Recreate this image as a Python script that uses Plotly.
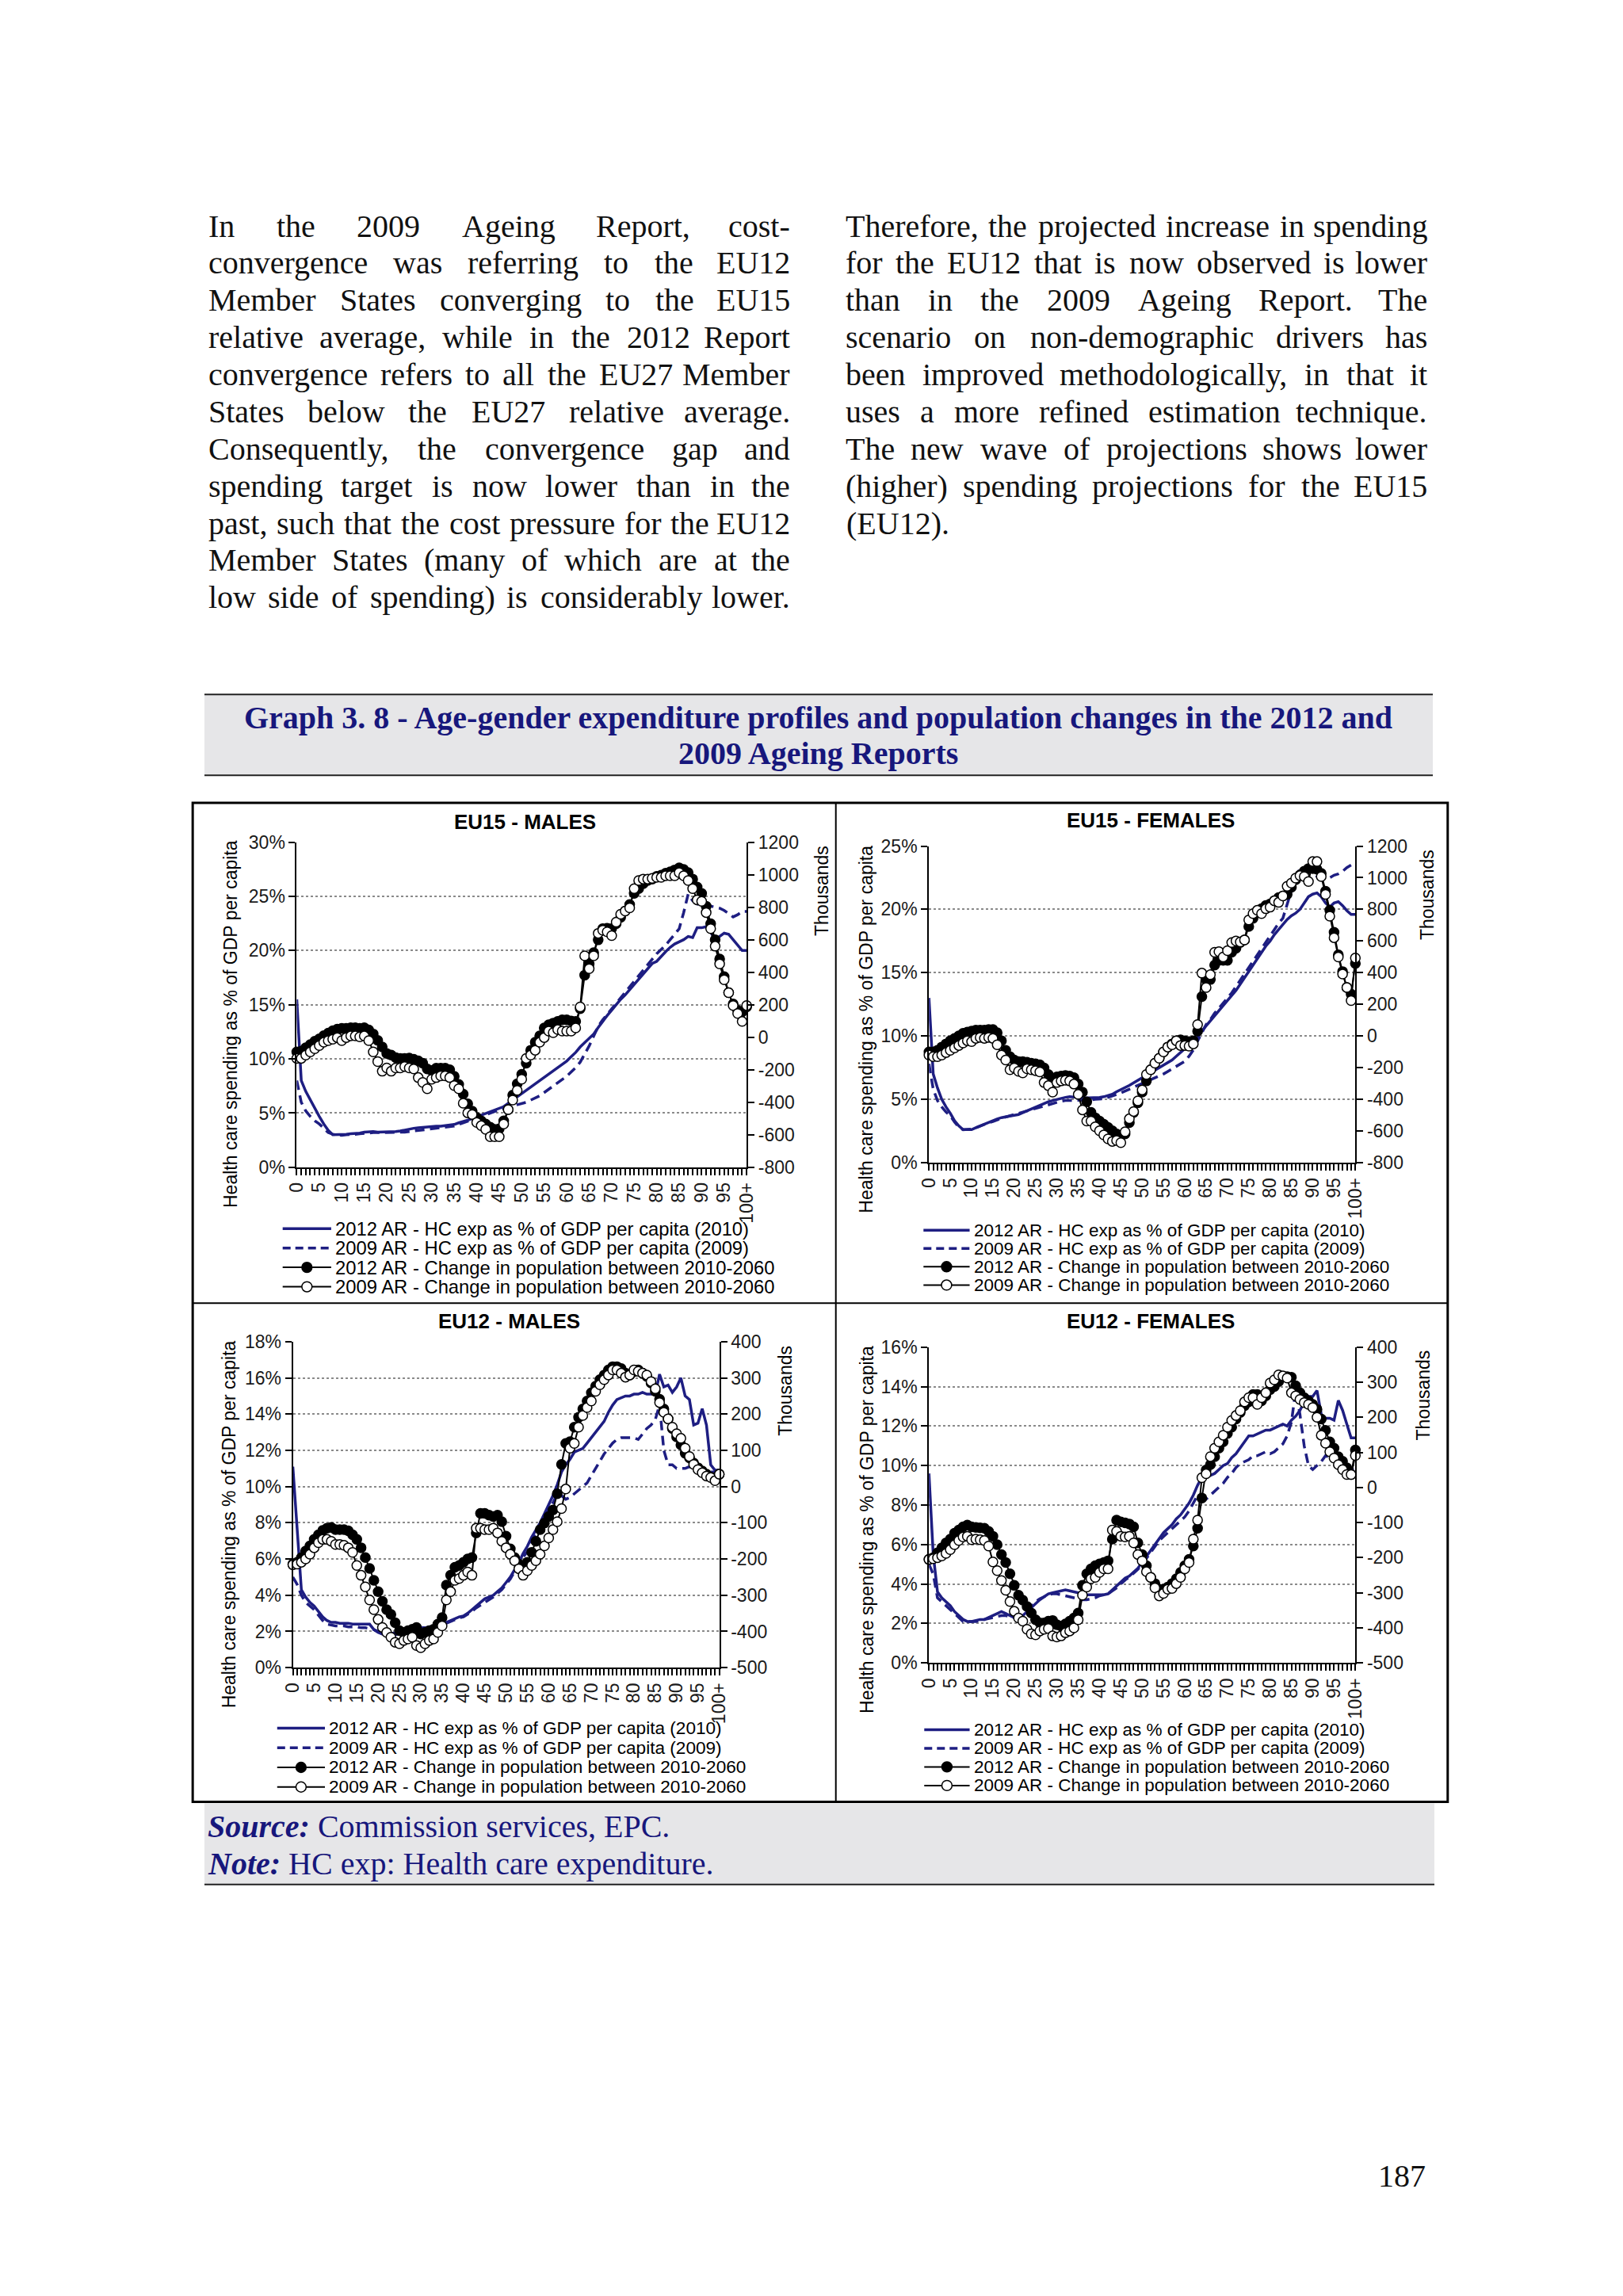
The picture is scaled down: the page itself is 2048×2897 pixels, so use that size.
import plotly.graph_objects as go

# ---------------- data ----------------
age_labels = [str(a) for a in range(100)] + ["100+"]

legend_labels = ["2012 AR - HC exp as % of GDP per capita (2010)",
                 "2009 AR - HC exp as % of GDP per capita (2009)",
                 "2012 AR - Change in population between 2010-2060",
                 "2009 AR - Change in population between 2010-2060"]

panel_titles = ["EU15 - MALES", "EU15 - FEMALES", "EU12 - MALES", "EU12 - FEMALES"]

right_ticks_eu15 = [-800, -600, -400, -200, 0, 200, 400, 600, 800, 1000, 1200]
right_ticks_eu12 = [-500, -400, -300, -200, -100, 0, 100, 200, 300, 400]

# EU15 males
hc12_eu15_m = [15.5, 8.0, 7.0, 6.2, 5.4, 4.7, 4.0, 3.4, 3.0, 3.0,
               3.0, 3.05, 3.1, 3.1, 3.15, 3.25, 3.3, 3.3, 3.25, 3.25,
               3.25, 3.25, 3.3, 3.35, 3.45, 3.5, 3.6, 3.65, 3.7, 3.7,
               3.75, 3.8, 3.8, 3.85, 3.9, 3.95, 4.1, 4.2, 4.35, 4.5,
               4.65, 4.85, 5.0, 5.1, 5.25, 5.4, 5.6, 5.9, 6.2, 6.5,
               6.8, 7.1, 7.4, 7.7, 8.0, 8.3, 8.6, 8.9, 9.2, 9.5,
               9.8, 10.2, 10.6, 11.1, 11.5, 11.9, 12.3, 12.9, 13.5, 14.0,
               14.5, 15.0, 15.5, 15.9, 16.4, 16.8, 17.3, 17.8, 18.3, 18.8,
               19.0, 19.5, 19.9, 20.3, 20.6, 20.8, 21.0, 21.3, 21.2, 22.1,
               22.1, 22.2, 21.7, 21.0, 21.3, 21.6, 21.5, 21.0, 20.5, 20.0, 20.0]
hc09_eu15_m = [8.0, 6.0, 5.2, 4.7, 4.3, 4.0, 3.6, 3.2, 3.05, 3.0,
               2.95, 3.0, 3.0, 3.05, 3.1, 3.15, 3.2, 3.2, 3.2, 3.2,
               3.2, 3.2, 3.2, 3.25, 3.25, 3.3, 3.35, 3.4, 3.45, 3.5,
               3.5, 3.55, 3.6, 3.65, 3.7, 3.8, 3.95, 4.1, 4.3, 4.45,
               4.6, 4.75, 4.9, 5.0, 5.15, 5.3, 5.45, 5.55, 5.65, 5.75,
               5.85, 6.0, 6.2, 6.4, 6.6, 6.9, 7.2, 7.5, 7.8, 8.1,
               8.4, 8.8, 9.2, 9.7, 10.4, 11.2, 12.1, 13.0, 13.6, 14.1,
               14.6, 15.2, 15.7, 16.2, 16.7, 17.2, 17.7, 18.2, 18.7, 19.2,
               19.7, 20.1, 20.5, 21.0, 21.5, 22.0, 23.5, 25.2, 24.6, 24.3,
               24.2, 24.2, 24.1, 24.0, 23.9, 23.7, 23.4, 23.1, 23.3, 23.6, 23.6]
pop12_eu15_m = [-90, -85, -65, -45, -25, -10, 10, 25, 40, 50,
                55, 55, 58, 58, 55, 58, 45, 20, -20, -60,
                -100, -110, -125, -130, -130, -128, -135, -145, -160, -195,
                -205, -190, -190, -190, -200, -240, -290, -350, -410, -455,
                -494, -514, -534, -553, -567, -563, -514, -445, -356, -287,
                -228, -160, -80, -31, 8, 57, 77, 87, 97, 107,
                107, 100, 97, 176, 382, 451, 520, 599, 668, 670,
                668, 698, 737, 776, 816, 885, 914, 944, 964, 973,
                989, 997, 1009, 1017, 1029, 1042, 1032, 1013, 973, 924,
                885, 806, 698, 599, 481, 373, 274, 205, 166, 156, 186]
pop09_eu15_m = [-130, -130, -110, -90, -71, -51, -31, -21, -12, -2,
                -21, -2, 8, 8, 2, 8, -21, -90, -150, -209,
                -189, -209, -189, -189, -180, -189, -195, -248, -278, -317,
                -258, -248, -238, -238, -248, -297, -317, -406, -465, -475,
                -524, -544, -567, -612, -612, -612, -534, -445, -386, -327,
                -258, -130, -110, -80, -31, -2, 38, 28, 47, 38,
                38, 38, 57, 186, 501, 422, 501, 639, 658, 648,
                625, 708, 757, 776, 796, 914, 964, 973, 973, 977,
                983, 983, 993, 993, 993, 1013, 993, 964, 914, 845,
                836, 767, 668, 560, 451, 353, 274, 195, 146, 97, 195]

# EU15 females
hc12_eu15_f = [13.0, 7.0, 5.9, 5.0, 4.4, 3.9, 3.3, 2.9, 2.6, 2.6,
               2.6, 2.75, 2.9, 3.05, 3.2, 3.3, 3.45, 3.55, 3.6, 3.65,
               3.7, 3.8, 3.95, 4.1, 4.25, 4.4, 4.5, 4.7, 4.8, 4.9,
               5.0, 5.1, 5.15, 5.2, 5.2, 5.15, 5.1, 5.1, 5.1, 5.1,
               5.15, 5.2, 5.3, 5.4, 5.6, 5.75, 5.9, 6.1, 6.3, 6.5,
               6.7, 6.9, 7.1, 7.3, 7.5, 7.7, 7.9, 8.1, 8.4, 8.7,
               9.0, 9.2, 9.5, 9.9, 10.4, 10.8, 11.2, 11.6, 12.0, 12.4,
               12.8, 13.2, 13.6, 14.1, 14.6, 15.1, 15.6, 16.1, 16.6, 17.1,
               17.5, 18.0, 18.4, 18.8, 19.2, 19.5, 19.7, 20.0, 20.5, 21.0,
               21.2, 21.3, 21.0, 20.5, 20.2, 20.5, 20.6, 20.3, 19.9, 19.6, 19.6]
hc09_eu15_f = [7.8, 5.8, 4.9, 4.4, 4.0, 3.7, 3.2, 2.8, 2.6, 2.6,
               2.65, 2.75, 2.9, 3.0, 3.15, 3.25, 3.4, 3.5, 3.6, 3.7,
               3.8, 3.85, 3.95, 4.05, 4.15, 4.3, 4.4, 4.5, 4.6, 4.7,
               4.8, 4.85, 4.9, 4.9, 4.9, 4.9, 4.9, 4.9, 4.95, 5.0,
               5.0, 5.05, 5.15, 5.25, 5.35, 5.5, 5.65, 5.8, 5.95, 6.1,
               6.2, 6.35, 6.5, 6.65, 6.8, 7.0, 7.2, 7.4, 7.6, 7.8,
               8.0, 8.4, 8.9, 9.6, 10.3, 10.9, 11.3, 11.8, 12.2, 12.6,
               13.0, 13.4, 13.9, 14.4, 14.9, 15.4, 15.9, 16.4, 16.9, 17.4,
               17.9, 18.4, 18.9, 19.3, 20.5, 21.5, 22.5, 23.2, 23.0, 23.1,
               23.0, 22.6, 22.5, 22.4, 22.5, 22.7, 22.8, 23.0, 23.3, 23.5, 23.6]
pop12_eu15_f = [-101, -101, -91, -70, -50, -30, -15, 1, 17, 25,
                31, 37, 37, 37, 41, 41, 21, -30, -91, -131,
                -152, -162, -162, -166, -172, -176, -182, -202, -243, -273,
                -259, -253, -250, -253, -263, -304, -355, -416, -483, -517,
                -538, -558, -578, -599, -619, -629, -619, -548, -483, -422,
                -355, -284, -213, -172, -141, -101, -70, -50, -30, -24,
                -30, -35, -30, 31, 249, 357, 357, 448, 478, 478,
                478, 529, 554, 590, 607, 692, 743, 783, 804, 824,
                834, 854, 875, 885, 895, 940, 987, 1017, 1041, 1058,
                1058, 1054, 1027, 915, 794, 655, 513, 407, 306, 265, 458]
pop09_eu15_f = [-121, -131, -131, -121, -105, -91, -76, -60, -44, -30,
                -36, -15, -9, -15, -9, -15, -56, -121, -152, -213,
                -202, -223, -233, -207, -213, -219, -227, -294, -314, -355,
                -294, -284, -280, -284, -304, -369, -467, -538, -538, -574,
                -599, -625, -650, -666, -660, -674, -605, -523, -477, -410,
                -341, -243, -213, -172, -141, -101, -70, -56, -30, -60,
                -60, -64, -50, 72, 397, 306, 387, 529, 533, 499,
                539, 590, 600, 594, 607, 733, 773, 794, 773, 804,
                814, 854, 844, 885, 946, 966, 997, 1013, 1007, 976,
                1102, 1102, 1007, 895, 757, 621, 499, 391, 306, 224, 493]

# EU12 males
hc12_eu12_m = [11.1, 7.5, 4.3, 3.9, 3.6, 3.4, 3.1, 2.8, 2.6, 2.5,
               2.5, 2.45, 2.45, 2.45, 2.4, 2.4, 2.4, 2.4, 2.4, 2.1,
               1.95, 1.85, 1.8, 1.8, 1.8, 1.9, 2.0, 2.1, 2.2, 2.15,
               2.2, 2.2, 2.25, 2.3, 2.35, 2.4, 2.5, 2.6, 2.7, 2.8,
               2.85, 3.0, 3.2, 3.4, 3.6, 3.8, 3.9, 4.0, 4.2, 4.4,
               4.7, 5.0, 5.4, 5.8, 6.3, 6.7, 7.2, 7.6, 8.0, 8.5,
               9.0, 9.5, 10.1, 10.8, 11.2, 11.5, 11.9, 12.0, 12.1, 12.4,
               12.7, 13.0, 13.3, 13.6, 14.1, 14.5, 14.8, 14.9, 15.0, 15.0,
               15.1, 15.1, 15.2, 15.1, 15.1, 15.1, 16.2, 15.5, 15.6, 15.2,
               15.5, 16.0, 15.0, 14.8, 13.4, 13.5, 14.3, 13.4, 11.2, 10.9, 10.9]
hc09_eu12_m = [5.0, 4.6, 4.0, 3.6, 3.4, 3.2, 2.9, 2.6, 2.4, 2.35,
               2.3, 2.3, 2.3, 2.25, 2.25, 2.25, 2.2, 2.2, 2.15, 2.1,
               2.0, 1.95, 1.9, 1.9, 1.9, 1.95, 2.0, 2.05, 2.1, 2.1,
               2.15, 2.15, 2.2, 2.25, 2.3, 2.35, 2.45, 2.55, 2.65, 2.75,
               2.8, 2.95, 3.1, 3.3, 3.45, 3.6, 3.75, 3.9, 4.1, 4.3,
               4.6, 4.9, 5.3, 5.7, 6.1, 6.4, 6.9, 7.5, 7.9, 8.3,
               8.7, 9.1, 9.6, 9.5, 9.3, 9.4, 9.6, 9.8, 10.0, 10.2,
               10.6, 11.0, 11.4, 11.8, 12.1, 12.4, 12.6, 12.7, 12.7, 12.7,
               12.7, 12.6, 12.9, 13.2, 13.4, 13.7, 14.5, 12.0, 11.2, 11.2,
               11.0, 11.0, 11.0, 11.1, 11.0, 10.9, 10.9, 10.9, 10.8, 10.8, 10.8]
pop12_eu12_m = [-214, -209, -196, -178, -164, -146, -133, -121, -115, -113,
                -119, -119, -119, -122, -133, -146, -169, -196, -226, -259,
                -290, -317, -340, -353, -376, -398, -403, -398, -394, -389,
                -407, -403, -398, -394, -380, -362, -272, -245, -223, -218,
                -209, -200, -196, -128, -74, -74, -79, -83, -79, -97,
                -137, -172, -196, -214, -223, -209, -182, -151, -119, -101,
                -83, -65, -20, 61, 119, 124, 164, 191, 214, 236,
                259, 277, 295, 308, 322, 331, 331, 326, 313, 308,
                317, 322, 313, 304, 286, 263, 241, 214, 187, 160,
                137, 115, 92, 79, 65, 52, 43, 34, 26, 20, 34]
pop09_eu12_m = [-216, -214, -209, -200, -187, -169, -155, -146, -146, -151,
                -160, -160, -162, -169, -182, -218, -245, -277, -313, -340,
                -367, -389, -403, -416, -430, -434, -425, -421, -416, -439,
                -445, -434, -425, -421, -403, -385, -313, -290, -259, -254,
                -245, -236, -245, -115, -115, -119, -119, -115, -128, -151,
                -169, -187, -205, -227, -245, -232, -218, -205, -187, -164,
                -142, -119, -97, -61, -7, 106, 119, 164, 196, 218,
                236, 263, 281, 295, 308, 322, 322, 313, 302, 308,
                322, 318, 313, 308, 290, 270, 232, 205, 187, 164,
                146, 133, 106, 83, 61, 47, 38, 29, 25, 16, 34]

# EU12 females
hc12_eu12_f = [9.6, 5.5, 3.6, 3.3, 3.1, 2.9, 2.6, 2.4, 2.2, 2.1,
               2.1, 2.15, 2.2, 2.2, 2.3, 2.4, 2.5, 2.6, 2.5, 2.4,
               2.3, 2.3, 2.4, 2.6, 2.8, 3.0, 3.2, 3.35, 3.5, 3.55,
               3.6, 3.65, 3.7, 3.65, 3.6, 3.55, 3.5, 3.45, 3.45, 3.45,
               3.45, 3.45, 3.5, 3.7, 3.9, 4.1, 4.3, 4.4, 4.6, 4.8,
               5.1, 5.4, 5.7, 6.0, 6.3, 6.6, 6.8, 7.0, 7.3, 7.5,
               7.8, 8.1, 8.5, 9.0, 9.4, 9.4, 9.5, 9.6, 9.8, 10.0,
               10.1, 10.4, 10.6, 10.9, 11.2, 11.5, 11.5, 11.6, 11.7, 11.8,
               11.8, 11.9, 12.0, 12.1, 12.0, 12.3, 12.5, 12.8, 13.2, 13.5,
               13.5, 13.8, 12.6, 12.4, 12.4, 12.3, 13.3, 12.8, 12.1, 11.4, 11.4]
hc09_eu12_f = [5.0, 4.5, 3.3, 3.1, 2.9, 2.7, 2.5, 2.3, 2.1, 2.1,
               2.1, 2.1, 2.15, 2.2, 2.25, 2.3, 2.35, 2.4, 2.4, 2.35,
               2.3, 2.35, 2.5, 2.7, 2.9, 3.1, 3.25, 3.35, 3.45, 3.5,
               3.5, 3.45, 3.4, 3.35, 3.3, 3.25, 3.2, 3.2, 3.25, 3.3,
               3.4, 3.45, 3.5, 3.65, 3.8, 4.0, 4.2, 4.35, 4.55, 4.75,
               5.0, 5.3, 5.6, 5.9, 6.2, 6.4, 6.6, 6.8, 7.0, 7.2,
               7.4, 7.7, 8.1, 8.5, 8.4, 8.3, 8.5, 8.7, 8.9, 9.1,
               9.4, 9.6, 9.9, 10.1, 10.2, 10.3, 10.5, 10.5, 10.6, 10.7,
               10.6, 10.7, 10.9, 11.1, 11.5, 12.2, 13.8, 12.6, 11.0, 10.0,
               9.8, 10.0, 10.2, 10.5, 10.4, 10.3, 10.3, 10.2, 10.0, 9.8, 9.8]
pop12_eu12_f = [-205, -200, -186, -172, -158, -147, -130, -121, -112, -107,
                -112, -114, -115, -116, -125, -139, -163, -191, -214, -246,
                -279, -307, -321, -339, -358, -377, -386, -386, -381, -379,
                -391, -395, -389, -381, -372, -358, -279, -246, -232, -223,
                -218, -214, -209, -147, -93, -98, -101, -104, -112, -158,
                -191, -223, -256, -274, -290, -290, -284, -274, -260, -242,
                -223, -205, -167, -116, -30, 50, 65, 88, 112, 130,
                154, 172, 195, 214, 233, 244, 265, 265, 247, 261,
                279, 288, 302, 316, 316, 314, 290, 270, 256, 247,
                237, 223, 195, 163, 130, 112, 88, 75, 56, 37, 107]
pop09_eu12_f = [-205, -203, -200, -195, -188, -177, -163, -151, -141, -139,
                -149, -147, -149, -151, -167, -212, -237, -265, -293, -325,
                -353, -372, -381, -404, -417, -420, -409, -404, -402, -423,
                -426, -423, -414, -409, -400, -377, -307, -284, -260, -256,
                -242, -232, -232, -121, -125, -139, -141, -139, -158, -191,
                -209, -240, -256, -286, -309, -302, -290, -288, -274, -256,
                -232, -214, -147, -93, 28, 39, 88, 112, 130, 149,
                172, 191, 205, 219, 244, 256, 256, 237, 256, 270,
                298, 307, 321, 318, 312, 270, 261, 251, 242, 237,
                228, 200, 149, 126, 102, 84, 65, 51, 37, 37, 91]

left_col_lines = ["In the 2009 Ageing Report, cost-",
                  "convergence was referring to the EU12",
                  "Member States converging to the EU15",
                  "relative average, while in the 2012 Report",
                  "convergence refers to all the EU27 Member",
                  "States below the EU27 relative average.",
                  "Consequently, the convergence gap and",
                  "spending target is now lower than in the",
                  "past, such that the cost pressure for the EU12",
                  "Member States (many of which are at the",
                  "low side of spending) is considerably lower."]
right_col_lines = ["Therefore, the projected increase in spending",
                   "for the EU12 that is now observed is lower",
                   "than in the 2009 Ageing Report. The",
                   "scenario on non-demographic drivers has",
                   "been improved methodologically, in that it",
                   "uses a more refined estimation technique.",
                   "The new wave of projections shows lower",
                   "(higher) spending projections for the EU15",
                   "(EU12)."]

# ---------------- page geometry ----------------
W, H = 2048, 2897
NAVY = "#1e1e82"
HEAD = "#17177c"
SANS = "Liberation Sans"
SERIF = "Liberation Serif"


def px(x):
    return x / W


def py(y):
    return 1 - y / H


TIMES_W = {" ": 250, ",": 250, ".": 250, "-": 333, "(": 333, ")": 333, ":": 278,
           "A": 722, "B": 667, "C": 667, "D": 722, "E": 611, "F": 556, "G": 722, "H": 722,
           "I": 333, "J": 389, "K": 722, "L": 611, "M": 889, "N": 722, "O": 722, "P": 556,
           "Q": 722, "R": 667, "S": 556, "T": 611, "U": 722, "V": 722, "W": 944, "X": 722,
           "Y": 722, "Z": 611, "a": 444, "b": 500, "c": 444, "d": 500, "e": 444, "f": 333,
           "g": 500, "h": 500, "i": 278, "j": 278, "k": 500, "l": 278, "m": 778, "n": 500,
           "o": 500, "p": 500, "q": 500, "r": 333, "s": 389, "t": 278, "u": 500, "v": 500,
           "w": 722, "x": 500, "y": 500, "z": 444}


def text_w(s, size):
    return sum(TIMES_W.get(c, 500) for c in s) * size / 1000


fig = go.Figure()
annotations = []
shapes = []

# ---------------- body text (justified) ----------------
BODY = 40
LINE_H = 47.3
FIRST_BASE = 280


def add_column(lines, x0, x1, last_left):
    for i, line in enumerate(lines):
        ymid = py(FIRST_BASE + i * LINE_H - 0.34 * BODY)
        words = line.split()
        if last_left and i == len(lines) - 1:
            annotations.append(dict(x=px(x0), y=ymid, xref="paper", yref="paper", text=line,
                                    showarrow=False, xanchor="left", yanchor="middle",
                                    font=dict(family=SERIF, size=BODY, color="#111")))
            continue
        widths = [text_w(w, BODY) for w in words]
        gap = (x1 - x0 - sum(widths)) / (len(words) - 1)
        x = x0
        for j, w in enumerate(words):
            last = j == len(words) - 1
            annotations.append(dict(x=px(x1 if last else x), y=ymid, xref="paper", yref="paper",
                                    text=w, showarrow=False, xanchor="right" if last else "left",
                                    yanchor="middle", borderpad=0,
                                    font=dict(family=SERIF, size=BODY, color="#111")))
            x += widths[j] + gap


add_column(left_col_lines, 243, 989, False)
add_column(right_col_lines, 1057, 1803, True)

# ---------------- graph heading band ----------------
shapes.append(dict(type="rect", xref="paper", yref="paper", x0=px(239), x1=px(1809),
                   y0=py(966), y1=py(863), fillcolor="#e6e6e8", line=dict(width=0), layer="below"))
for yy in (863, 966):
    shapes.append(dict(type="line", xref="paper", yref="paper", x0=px(239), x1=px(1809),
                       y0=py(yy), y1=py(yy), line=dict(color="#222", width=2)))
for k, t in enumerate(["Graph 3. 8 - Age-gender expenditure profiles and population changes in the 2012 and",
                       "2009 Ageing Reports"]):
    annotations.append(dict(x=px(1023), y=py(906 + 46 * k - 0.34 * BODY), xref="paper", yref="paper",
                            text="<b>" + t + "</b>", showarrow=False, xanchor="center", yanchor="middle",
                            font=dict(family=SERIF, size=BODY, color=HEAD)))

# ---------------- source band ----------------
shapes.append(dict(type="rect", xref="paper", yref="paper", x0=px(239), x1=px(1811),
                   y0=py(2378), y1=py(2275), fillcolor="#e6e6e8", line=dict(width=0), layer="below"))
shapes.append(dict(type="line", xref="paper", yref="paper", x0=px(239), x1=px(1811),
                   y0=py(2378), y1=py(2378), line=dict(color="#222", width=2)))
annotations.append(dict(x=px(241), y=py(2318 - 0.34 * BODY), xref="paper", yref="paper",
                        text="<b><i>Source:</i></b> Commission services, EPC.", showarrow=False,
                        xanchor="left", yanchor="middle", font=dict(family=SERIF, size=BODY, color=HEAD)))
annotations.append(dict(x=px(241), y=py(2365 - 0.34 * BODY), xref="paper", yref="paper",
                        text="<b><i>Note:</i></b> HC exp: Health care expenditure.", showarrow=False,
                        xanchor="left", yanchor="middle", font=dict(family=SERIF, size=BODY, color=HEAD)))
annotations.append(dict(x=px(1802), y=py(2763 - 0.34 * BODY), xref="paper", yref="paper", text="187",
                        showarrow=False, xanchor="right", yanchor="middle",
                        font=dict(family=SERIF, size=BODY, color="#111")))

# ---------------- chart frame ----------------
shapes.append(dict(type="rect", xref="paper", yref="paper", x0=px(224), x1=px(1828),
                   y0=py(2273), y1=py(1001), line=dict(color="black", width=3)))
shapes.append(dict(type="line", xref="paper", yref="paper", x0=px(1046), x1=px(1046),
                   y0=py(2273), y1=py(1001), line=dict(color="black", width=2)))
shapes.append(dict(type="line", xref="paper", yref="paper", x0=px(224), x1=px(1828),
                   y0=py(1638), y1=py(1638), line=dict(color="black", width=2)))

# ---------------- panels ----------------
# legend = (sample x0, sample x1, text x, first row y, row gap, font size)
panels = [
    dict(data=(hc12_eu15_m, hc09_eu15_m, pop12_eu15_m, pop09_eu15_m), box=(357, 1051, 932, 1465),
         left=(30, 5), right=right_ticks_eu15, title=(649, 1025), ytitle=(273, 1283),
         thous=(1028, 1113), legend=(339, 401, 405, 1543, 24.7, 23.8)),
    dict(data=(hc12_eu15_f, hc09_eu15_f, pop12_eu15_f, pop09_eu15_f), box=(1165, 1056, 1710, 1459),
         left=(25, 5), right=right_ticks_eu15, title=(1448, 1023), ytitle=(1085, 1289),
         thous=(1802, 1118), legend=(1158, 1217, 1222, 1545, 23.3, 22.5)),
    dict(data=(hc12_eu12_m, hc09_eu12_m, pop12_eu12_m, pop09_eu12_m), box=(352, 1687, 897, 2102),
         left=(18, 2), right=right_ticks_eu12, title=(628, 1661), ytitle=(270, 1920),
         thous=(982, 1750), legend=(332, 393, 397, 2179, 25.0, 22.6)),
    dict(data=(hc12_eu12_f, hc09_eu12_f, pop12_eu12_f, pop09_eu12_f), box=(1165, 1694, 1710, 2096),
         left=(16, 2), right=right_ticks_eu12, title=(1448, 1661), ytitle=(1085, 1926),
         thous=(1797, 1755), legend=(1159, 1217, 1222, 2181, 23.7, 22.5)),
]

xpos = list(range(len(age_labels)))
ticktext = [lab if i % 5 == 0 else "" for i, lab in enumerate(age_labels)]
tickfont = dict(family=SANS, size=23, color="#1a1a1a")
layout_axes = {}

for p, cfg in enumerate(panels):
    hc12, hc09, pop12, pop09 = cfg["data"]
    x0, y0, x1, y1 = cfg["box"]
    xa = "x" if p == 0 else "x%d" % (p + 1)
    yl = "y" if p == 0 else "y%d" % (2 * p + 1)
    yr = "y%d" % (2 * p + 2)

    fig.add_trace(go.Scatter(x=xpos, y=hc12, xaxis=xa, yaxis=yl, mode="lines", name=legend_labels[0],
                             line=dict(color=NAVY, width=3.5), showlegend=False))
    fig.add_trace(go.Scatter(x=xpos, y=hc09, xaxis=xa, yaxis=yl, mode="lines", name=legend_labels[1],
                             line=dict(color=NAVY, width=3.5, dash="12px,7px"), showlegend=False))
    fig.add_trace(go.Scatter(x=xpos, y=pop12, xaxis=xa, yaxis=yr, mode="lines+markers",
                             name=legend_labels[2], line=dict(color="black", width=2), cliponaxis=False,
                             marker=dict(symbol="circle", size=12, color="black",
                                         line=dict(color="black", width=1.5)), showlegend=False))
    fig.add_trace(go.Scatter(x=xpos, y=pop09, xaxis=xa, yaxis=yr, mode="lines+markers",
                             name=legend_labels[3], line=dict(color="black", width=2), cliponaxis=False,
                             marker=dict(symbol="circle", size=12, color="white",
                                         line=dict(color="black", width=1.5)), showlegend=False))

    xname = "xaxis" if p == 0 else "xaxis%d" % (p + 1)
    ylname = "yaxis" if p == 0 else "yaxis%d" % (2 * p + 1)
    yrname = "yaxis%d" % (2 * p + 2)
    layout_axes[xname] = dict(domain=[px(x0), px(x1)], anchor=yl, range=[0, len(age_labels) - 1],
                              tickmode="array", tickvals=xpos, ticktext=ticktext, tickangle=-90,
                              ticks="outside", ticklen=8, tickwidth=1.5, tickcolor="black",
                              showline=True, linecolor="black", linewidth=2, showgrid=False,
                              zeroline=False, tickfont=tickfont)
    top, step = cfg["left"]
    layout_axes[ylname] = dict(domain=[py(y1), py(y0)], anchor=xa, range=[0, top], dtick=step,
                               tick0=0, ticksuffix="%", ticks="outside", ticklen=8, tickwidth=1.5,
                               tickcolor="black", showline=True, linecolor="black", linewidth=2,
                               showgrid=True, gridcolor="#8a8a8a", griddash="dot", gridwidth=1.5,
                               zeroline=False, tickfont=tickfont)
    rticks = cfg["right"]
    layout_axes[yrname] = dict(overlaying=yl, side="right", anchor=xa, range=[rticks[0], rticks[-1]],
                               tickmode="array", tickvals=rticks, ticktext=[str(v) for v in rticks],
                               ticks="outside", ticklen=8, tickwidth=1.5, tickcolor="black",
                               showline=True, linecolor="black", linewidth=2, showgrid=False,
                               zeroline=False, tickfont=tickfont)

    # titles
    tx, ty = cfg["title"]
    annotations.append(dict(x=px(tx), y=py(ty), xref="paper", yref="paper",
                            text="<b>" + panel_titles[p] + "</b>", showarrow=False,
                            xanchor="center", yanchor="middle",
                            font=dict(family=SANS, size=26, color="black")))
    ax_, ay_ = cfg["ytitle"]
    annotations.append(dict(x=px(ax_), y=py(ay_), xref="paper", yref="paper",
                            text="Health care spending as % of GDP per capita", textangle=-90,
                            showarrow=False, xanchor="center", yanchor="middle",
                            font=dict(family=SANS, size=23, color="black")))
    thx, thy = cfg["thous"]
    annotations.append(dict(x=px(thx), y=py(thy), xref="paper", yref="paper", text="Thousands",
                            textangle=-90, showarrow=False, xanchor="center", yanchor="middle",
                            font=dict(family=SANS, size=23, color="black")))

    # legend (drawn by hand to match sample length and row spacing)
    sx0, sx1, tx0, row0, gap, lsize = cfg["legend"]
    for r in range(len(legend_labels)):
        ry = row0 + r * gap
        if r < 2:
            shapes.append(dict(type="line", xref="paper", yref="paper", x0=px(sx0), x1=px(sx1),
                               y0=py(ry), y1=py(ry),
                               line=dict(color=NAVY, width=3.5, dash="solid" if r == 0 else "10px,6px")))
        else:
            shapes.append(dict(type="line", xref="paper", yref="paper", x0=px(sx0), x1=px(sx1),
                               y0=py(ry), y1=py(ry), line=dict(color="black", width=2)))
            cx = (sx0 + sx1) / 2
            shapes.append(dict(type="circle", xref="paper", yref="paper", x0=px(cx - 6.5),
                               x1=px(cx + 6.5), y0=py(ry + 6.5), y1=py(ry - 6.5),
                               fillcolor="black" if r == 2 else "white",
                               line=dict(color="black", width=1.5)))
        annotations.append(dict(x=px(tx0), y=py(ry), xref="paper", yref="paper",
                                text=legend_labels[r], showarrow=False, xanchor="left",
                                yanchor="middle", borderpad=0,
                                font=dict(family=SANS, size=lsize, color="black")))

fig.update_layout(width=W, height=H, autosize=False, margin=dict(l=0, r=0, t=0, b=0),
                  paper_bgcolor="white", plot_bgcolor="rgba(0,0,0,0)", showlegend=False,
                  annotations=annotations, shapes=shapes, **layout_axes)

fig.write_html("out.html")
